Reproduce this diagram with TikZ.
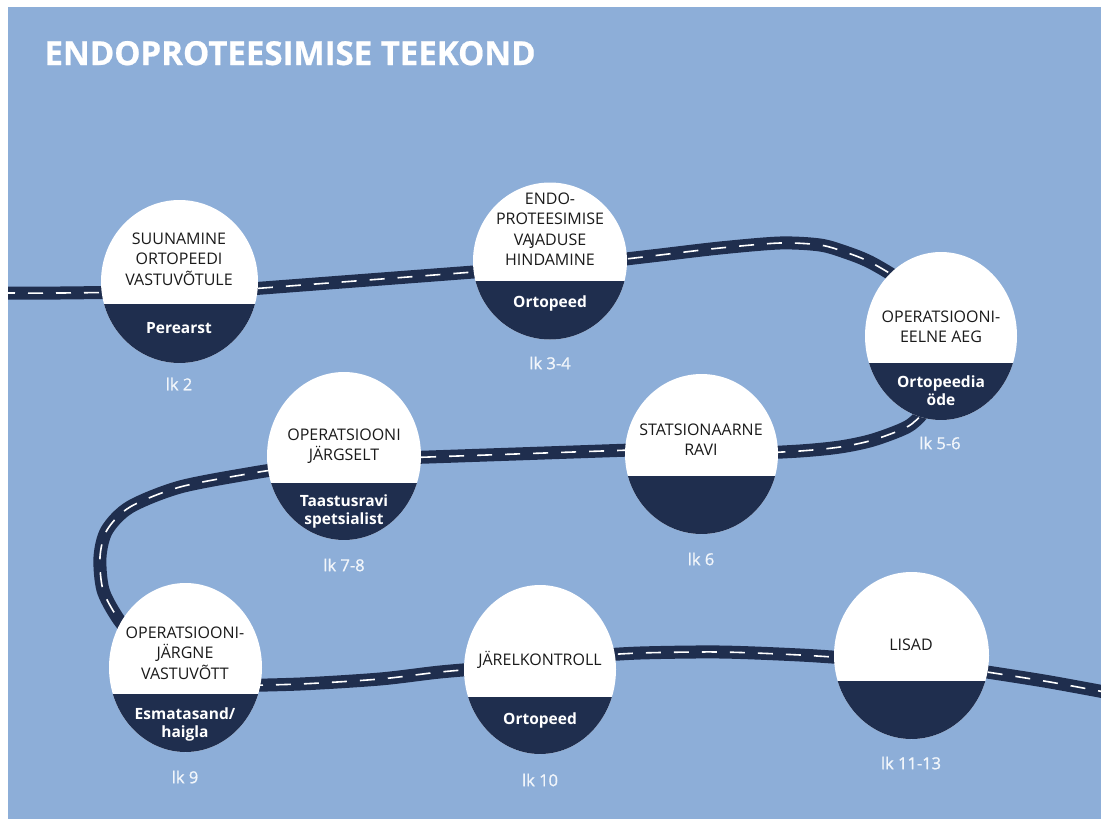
\documentclass[tikz,border=0pt]{standalone}
\usepackage{fontspec}
\setmainfont{Open Sans}
\newfontfamily\lkfont{Open Sans}[FakeBold=0.9]
\newfontfamily\titlefont{Open Sans Bold}[FakeBold=0.6]
\usetikzlibrary{shapes.geometric}
\definecolor{bg}{HTML}{8DAED8}
\definecolor{navy}{HTML}{1F2E4E}
\definecolor{ink}{HTML}{1A1A1A}
\definecolor{lkc}{HTML}{F2F6FB}
\begin{document}
\begin{tikzpicture}[x=1pt,y=-1pt,
  road/.style={draw=navy, line width=13pt, line cap=butt,
    postaction={draw=white, line width=1.6pt, dash pattern=on 15pt off 13pt}},
  stop/.style={ellipse, fill=white, inner sep=0pt},
  navycut/.style={path picture={\fill[navy] ([yshift=#1]path picture bounding box.west) rectangle (path picture bounding box.south east);}},
  ttl/.style={text=ink, align=center, font=\fontsize{16}{20.5}\selectfont},
  who/.style={text=white, align=center, font=\bfseries\fontsize{15.5}{18}\selectfont},
  lk/.style={text=lkc, font=\lkfont\fontsize{16.5}{20}\selectfont}
]
\useasboundingbox (0,0) rectangle (1101,819);
\fill[white] (0,0) rectangle (1101,819);
\fill[bg] (8,7) rectangle (1101,819);
\begin{scope}
\clip (8,7) rectangle (1101,819);
\draw[road] plot[smooth] coordinates {(0,293) (60,293) (140,292)};
\draw[road] (230,290.5) -- (500,270);
\draw[road] plot[smooth] coordinates {(600,262) (660,255) (720,248) (780,243) (820,245) (845,252) (870,262) (900,280) (915,295)};
\draw[road] plot[smooth] coordinates {(935,395) (923,413) (907,427) (873,440) (840,447) (800,451) (740,454)};
\draw[road] (660,449) -- (400,458);
\draw[road] plot[smooth] coordinates {(300,466) (253,473) (180,487) (130,507) (107,530) (100,557) (103,590) (117,617) (135,640)};
\draw[road] plot[smooth] coordinates {(220,686) (300,684) (380,679) (440,672) (500,667)};
\draw[road] plot[smooth] coordinates {(590,656) (640,653) (720,652) (800,655) (860,659)};
\draw[road] plot[smooth] coordinates {(960,668) (1000,674) (1050,682) (1110,693)};
\end{scope}

\node[anchor=base west, text=white, font=\titlefont\fontsize{33}{40}\selectfont] (title) at (41,65) {ENDOPROTEESIMISE TEEKOND};

\node[stop, minimum width=157pt, minimum height=163pt, navycut=-22.5pt] (s1) at (179.5,281.5) {};
\node[stop, minimum width=154pt, minimum height=157pt, navycut=-20pt] (s2) at (550,261) {};
\node[stop, minimum width=152pt, minimum height=168pt, navycut=-27pt] (s3) at (941,336) {};
\node[stop, minimum width=153pt, minimum height=160pt, navycut=-22pt] (s4) at (701.5,454) {};
\node[stop, minimum width=154pt, minimum height=168pt, navycut=-27pt] (s5) at (344,456) {};
\node[stop, minimum width=153pt, minimum height=169pt, navycut=-26.5pt] (s6) at (185.5,667.5) {};
\node[stop, minimum width=152pt, minimum height=169pt, navycut=-27.5pt] (s7) at (540,669.5) {};
\node[stop, minimum width=155pt, minimum height=167pt, navycut=-25.5pt] (s8) at (911.5,655.5) {};

\node[ttl] (t1) at (179,259) {SUUNAMINE\\ORTOPEEDI\\VASTUVÕTULE};
\node[who] (b1) at (179,328) {Perearst};
\node[lk] (l1) at (179,384) {lk 2};

\node[ttl] (t2) at (550,229) {ENDO-\\PROTEESIMISE\\VA\kern-2pt JADUSE\\HINDAMINE};
\node[who] (b2) at (550,303) {Ortopeed};
\node[lk] (l2) at (550,363) {lk 3-4};

\node[ttl] (t3) at (941,327) {OPERATSIOONI-\\EELNE AEG};
\node[who] (b3) at (941,391) {Ortopeedia\\öde};
\node[lk] (l3) at (940,443) {lk 5-6};

\node[ttl] (t4) at (701,439.5) {STATSIONAARNE\\RAVI};
\node[lk] (l4) at (701,559) {lk 6};

\node[ttl] (t5) at (344,446) {OPERATSIOONI\\JÄRGSELT};
\node[who] (b5) at (344,511) {Taastusravi\\spetsialist};
\node[lk] (l5) at (344,565) {lk 7-8};

\node[ttl] (t6) at (185,653) {OPERATSIOONI-\\JÄRGNE\\VASTUVÕTT};
\node[who] (b6) at (185,724) {Esmatasand/\\haigla};
\node[lk] (l6) at (185,777) {lk 9};

\node[ttl] (t7) at (540,660) {JÄRELKONTROLL};
\node[who] (b7) at (540,720) {Ortopeed};
\node[lk] (l7) at (540,780) {lk 10};

\node[ttl] (t8) at (911,645) {LISAD};
\node[lk] (l8) at (911,763) {lk 11-13};
\end{tikzpicture}
\end{document}
